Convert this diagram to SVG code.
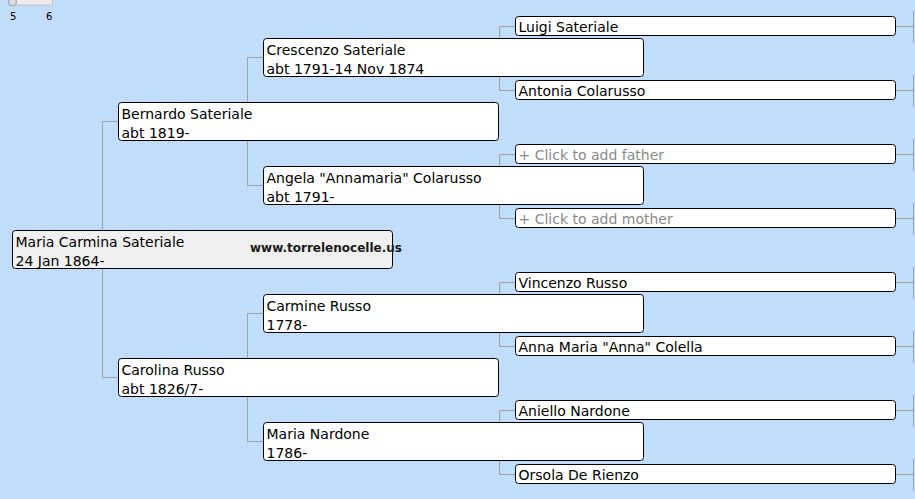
<svg xmlns="http://www.w3.org/2000/svg" width="915" height="499" viewBox="0 0 915 499">
<style>
.bg{fill:#c2dcfb}
.box{fill:#ffffff;stroke:#000000;stroke-width:1}
.root{fill:#f0f0f0;stroke:#000000;stroke-width:1}
.ln{fill:none;stroke:#a0a0a0;stroke-width:1}
.t{font-family:"DejaVu Sans",Verdana,sans-serif;font-size:14px;fill:#000000}
.g{font-family:"DejaVu Sans",Verdana,sans-serif;font-size:14px;fill:#8a8a8a}
.wm{font-family:"DejaVu Sans",Verdana,sans-serif;font-size:12px;font-weight:bold;fill:#1a1a1a}
.s{font-family:"DejaVu Sans",Verdana,sans-serif;font-size:10px;fill:#000000}
</style>
<rect class="bg" x="0" y="0" width="915" height="499"/>
<g id="slider">
<rect x="13.5" y="-1" width="39" height="6" fill="#ececec" stroke="#c4c4c4"/>
<circle cx="12.5" cy="2" r="4" fill="#dcdcdc" stroke="#9a9a9a"/>
<text class="s" x="10" y="20">5</text>
<text class="s" x="46" y="20">6</text>
</g>
<g id="connectors">
<path class="ln" d="M102.5 121.5V377.5M102.5 121.5H118M102.5 377.5H118"/>
<path class="ln" d="M247.5 57.5V185.5M247.5 57.5H263M247.5 185.5H263"/>
<path class="ln" d="M247.5 313.5V441.5M247.5 313.5H263M247.5 441.5H263"/>
<path class="ln" d="M499.5 26.5V90.5M499.5 26.5H515M499.5 90.5H515"/>
<path class="ln" d="M499.5 154.5V218.5M499.5 154.5H515M499.5 218.5H515"/>
<path class="ln" d="M499.5 282.5V346.5M499.5 282.5H515M499.5 346.5H515"/>
<path class="ln" d="M499.5 410.5V474.5M499.5 410.5H515M499.5 474.5H515"/>
<path class="ln" d="M896 26.5H913M913.5 11V42M896 90.5H913M913.5 75V106M896 154.5H913M913.5 139V170M896 218.5H913M913.5 203V234M896 282.5H913M913.5 267V298M896 346.5H913M913.5 331V362M896 410.5H913M913.5 395V426M896 474.5H913M913.5 459V490"/>
</g>
<g id="n-root">
<rect class="root" x="12.5" y="230.5" width="380" height="38" rx="3"/>
<text class="t" x="15.5" y="247">Maria Carmina Sateriale</text>
<text class="t" x="15.5" y="266">24 Jan 1864-</text>
<text class="wm" x="250" y="252">www.torrelenocelle.us</text>
</g>
<g id="n-bernardo">
<rect class="box" x="118.5" y="102.5" width="380" height="38" rx="3"/>
<text class="t" x="121.5" y="119">Bernardo Sateriale</text>
<text class="t" x="121.5" y="138">abt 1819-</text>
</g>
<g id="n-carolina">
<rect class="box" x="118.5" y="358.5" width="380" height="38" rx="3"/>
<text class="t" x="121.5" y="375">Carolina Russo</text>
<text class="t" x="121.5" y="394">abt 1826/7-</text>
</g>
<g id="n-crescenzo">
<rect class="box" x="263.5" y="38.5" width="380" height="38" rx="3"/>
<text class="t" x="266.5" y="55">Crescenzo Sateriale</text>
<text class="t" x="266.5" y="74">abt 1791-14 Nov 1874</text>
</g>
<g id="n-angela">
<rect class="box" x="263.5" y="166.5" width="380" height="38" rx="3"/>
<text class="t" x="266.5" y="183">Angela "Annamaria" Colarusso</text>
<text class="t" x="266.5" y="202">abt 1791-</text>
</g>
<g id="n-carmine">
<rect class="box" x="263.5" y="294.5" width="380" height="38" rx="3"/>
<text class="t" x="266.5" y="311">Carmine Russo</text>
<text class="t" x="266.5" y="330">1778-</text>
</g>
<g id="n-marianardone">
<rect class="box" x="263.5" y="422.5" width="380" height="38" rx="3"/>
<text class="t" x="266.5" y="439">Maria Nardone</text>
<text class="t" x="266.5" y="458">1786-</text>
</g>
<g id="n-luigi">
<rect class="box" x="515.5" y="16.5" width="380" height="19" rx="3"/>
<text class="t" x="518.5" y="32">Luigi Sateriale</text>
</g>
<g id="n-antonia">
<rect class="box" x="515.5" y="80.5" width="380" height="19" rx="3"/>
<text class="t" x="518.5" y="96">Antonia Colarusso</text>
</g>
<g id="n-addfather">
<rect class="box" x="515.5" y="144.5" width="380" height="19" rx="3"/>
<text class="g" x="518.5" y="160">+ Click to add father</text>
</g>
<g id="n-addmother">
<rect class="box" x="515.5" y="208.5" width="380" height="19" rx="3"/>
<text class="g" x="518.5" y="224">+ Click to add mother</text>
</g>
<g id="n-vincenzo">
<rect class="box" x="515.5" y="272.5" width="380" height="19" rx="3"/>
<text class="t" x="518.5" y="288">Vincenzo Russo</text>
</g>
<g id="n-annamaria">
<rect class="box" x="515.5" y="336.5" width="380" height="19" rx="3"/>
<text class="t" x="518.5" y="352">Anna Maria "Anna" Colella</text>
</g>
<g id="n-aniello">
<rect class="box" x="515.5" y="400.5" width="380" height="19" rx="3"/>
<text class="t" x="518.5" y="416">Aniello Nardone</text>
</g>
<g id="n-orsola">
<rect class="box" x="515.5" y="464.5" width="380" height="19" rx="3"/>
<text class="t" x="518.5" y="480">Orsola De Rienzo</text>
</g>
</svg>
